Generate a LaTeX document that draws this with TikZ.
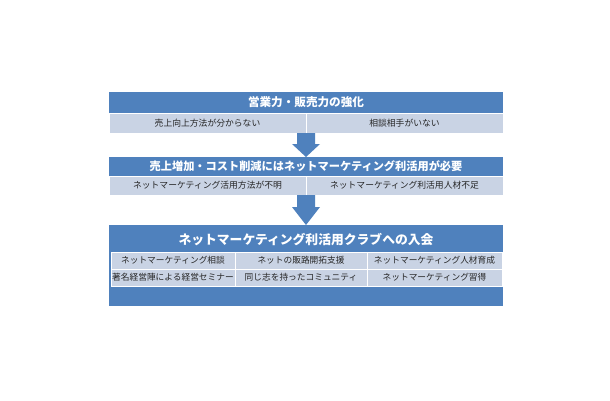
\documentclass[tikz,border=0pt]{standalone}
\usepackage{fontspec}
\setmainfont{Noto Sans CJK JP}
\usetikzlibrary{calc}
\definecolor{hdr}{HTML}{4F81BD}
\definecolor{cellc}{HTML}{C9D3E4}
\definecolor{txtc}{HTML}{262626}
\begin{document}
\begin{tikzpicture}[x=1pt,y=-1pt,
  every node/.style={inner sep=0pt,outer sep=0pt},
  hdrbar/.style={rectangle,fill=hdr,minimum width=394pt,text=white,font=\bfseries\fontsize{11.2}{13}\selectfont},
  subcell/.style={rectangle,fill=cellc,draw=white,line width=0.8pt,minimum width=197pt,minimum height=20pt,text=txtc,font=\fontsize{8.8}{10}\selectfont},
  gridcell/.style={rectangle,fill=cellc,draw=white,line width=0.8pt,minimum height=17pt,text=txtc,font=\fontsize{8.7}{10}\selectfont},
  downarrow/.style={fill=hdr}
]
\fill[white] (0,0) rectangle (610,400);
\useasboundingbox (0,0) rectangle (610,400);

% Box 1
\node[hdrbar,minimum height=21pt,font=\bfseries\fontsize{11.6}{13}\selectfont] (t1) at (306,102.5) {営業力・販売力の強化};
\node[subcell] (c11) at (207.5,123) {売上向上方法が分からない};
\node[subcell] (c12) at (404.5,123) {相談相手がいない};

% Box 2
\node[hdrbar,minimum height=19pt] (t2) at (306,166.5) {売上増加・コスト削減にはネットマーケティング利活用が必要};
\node[subcell,minimum height=19pt] (c21) at (207.5,185.5) {ネットマーケティング活用方法が不明};
\node[subcell,minimum height=19pt] (c22) at (404.5,185.5) {ネットマーケティング利活用人材不足};

% Box 3
\node[rectangle,fill=hdr,minimum width=394pt,minimum height=81pt] (b3) at (306,265.5) {};
\node[text=white,font=\bfseries\fontsize{12.8}{15}\selectfont] (t3) at (306,240) {ネットマーケティング利活用クラブへの入会};
\node[gridcell,minimum width=124pt] (g11) at (173,260.5) {ネットマーケティング相談};
\node[gridcell,minimum width=132pt] (g12) at (301,260.5) {ネットの販路開拓支援};
\node[gridcell,minimum width=135pt] (g13) at (434.5,260.5) {ネットマーケティング人材育成};
\node[gridcell,minimum width=124pt] (g21) at (173,277.5) {著名経営陣による経営セミナー};
\node[gridcell,minimum width=132pt] (g22) at (301,277.5) {同じ志を持ったコミュニティ};
\node[gridcell,minimum width=135pt] (g23) at (434.5,277.5) {ネットマーケティング習得};

% Arrows
\fill[downarrow] ($(c11.south east)+(-9,0)$) -- ($(c11.south east)+(9,0)$) -- ($(c11.south east)+(9,11)$) -- ($(c11.south east)+(14,11)$) -- (t2.north) -- ($(c11.south east)+(-14,11)$) -- ($(c11.south east)+(-9,11)$) -- cycle;
\fill[downarrow] ($(c21.south east)+(-9,0)$) -- ($(c21.south east)+(9,0)$) -- ($(c21.south east)+(9,12)$) -- ($(c21.south east)+(14,12)$) -- (b3.north) -- ($(c21.south east)+(-14,12)$) -- ($(c21.south east)+(-9,12)$) -- cycle;
\end{tikzpicture}
\end{document}
